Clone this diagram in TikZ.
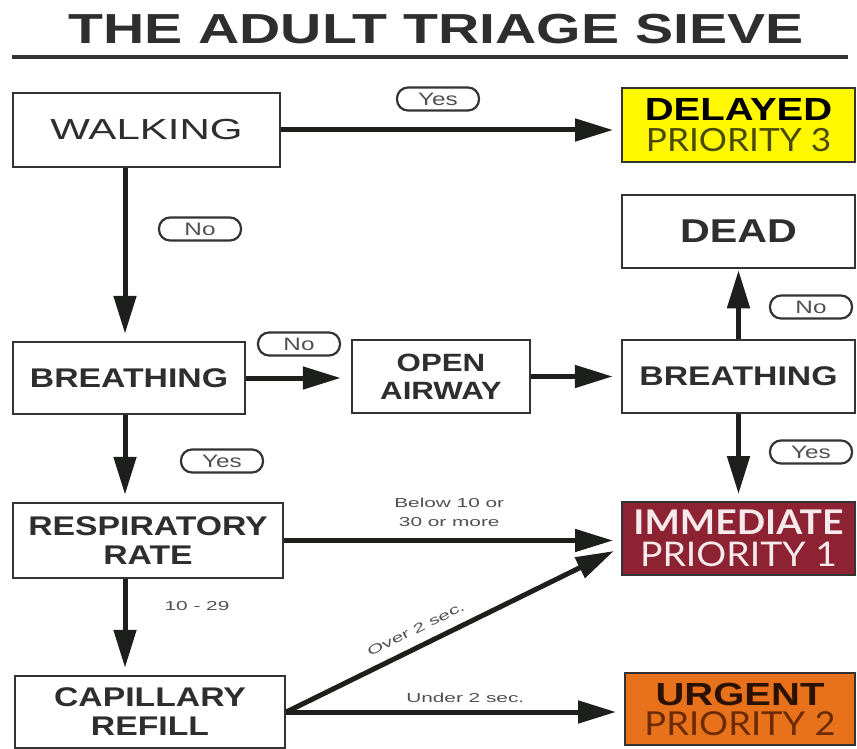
\documentclass[tikz,border=0pt]{standalone}
\usepackage{fontspec}
\setmainfont{Liberation Sans}
\newfontfamily\boxfont[FakeStretch=1.25]{Liberation Sans}
\newfontfamily\walkfont[FakeStretch=1.45]{Liberation Sans}
\newfontfamily\titlefont[FakeStretch=1.36]{Liberation Sans}
\newfontfamily\smallfont[FakeStretch=1.6]{Liberation Sans}
\newfontfamily\pillfont[FakeStretch=1.35]{Liberation Sans}
\newfontfamily\prifont[FakeStretch=1.1]{Lato}
\usetikzlibrary{arrows.meta,calc}
\definecolor{boxgray}{HTML}{333333}
\definecolor{arrowcol}{HTML}{1C1F1C}
\definecolor{txtgray}{HTML}{2E2E2E}
\definecolor{delayfill}{HTML}{FFF800}
\definecolor{immfill}{HTML}{8C2232}
\definecolor{urgfill}{HTML}{E8721C}
\definecolor{olive}{HTML}{4A4A00}
\definecolor{urgtxt}{HTML}{2B1200}
\definecolor{urgpri}{HTML}{6B2A00}
\definecolor{immtxt}{HTML}{F7EAEC}
\definecolor{smallgray}{HTML}{505050}
\begin{document}
\begin{tikzpicture}[x=1pt,y=-1pt,
  box/.style={draw=boxgray, line width=2.5pt, fill=white, inner sep=0pt, align=center, text=txtgray,
    font=\boxfont\bfseries\fontsize{27}{29}\selectfont},
  pribox/.style={draw=boxgray, line width=2pt, inner sep=0pt, align=center},
  pill/.style={draw=boxgray, line width=2.2pt, rounded corners=11pt, fill=white,
    minimum width=82pt, minimum height=23pt, inner sep=0pt, text=smallgray,
    font=\pillfont\fontsize{18}{18}\selectfont},
  arr/.style={draw=arrowcol, line width=5pt, -{Triangle[length=38pt,width=22pt]}},
  small/.style={text=smallgray, font=\smallfont\fontsize{13}{19}\selectfont, align=center, inner sep=2pt}
]
\useasboundingbox (0,0) rectangle (857,749);

% title
\node[anchor=base, text=txtgray, inner sep=0pt, font=\titlefont\bfseries\fontsize{42}{44}\selectfont]
  (title) at (436,44) {THE ADULT TRIAGE SIEVE};
\coordinate (ulL) at (12,57);
\coordinate (ulR) at (848,57);
\draw[boxgray, line width=4pt] (ulL) -- (ulR);

% boxes
\node[box, minimum width=267pt, minimum height=74pt, font=\walkfont\fontsize{29}{30}\selectfont] (walking) at (146.5,130) {WALKING};
\node[pribox, fill=delayfill, minimum width=233pt, minimum height=74pt, font=\fontsize{32}{32}\selectfont] (delayed) at (738.5,125)
  {\textcolor{black}{\boxfont\bfseries DELAYED}\\[-1pt]\textcolor{olive}{\prifont PRIORITY 3}};
\node[box, minimum width=233pt, minimum height=73pt, font=\boxfont\bfseries\fontsize{33}{33}\selectfont] (dead) at (738.5,231.5) {DEAD};
\node[box, minimum width=232pt, minimum height=72pt] (breathL) at (129,378) {BREATHING};
\node[box, minimum width=178pt, minimum height=73pt, font=\boxfont\bfseries\fontsize{25}{28}\selectfont] (openair) at (441,376.5) {OPEN\\AIRWAY};
\node[box, minimum width=233pt, minimum height=73pt] (breathR) at (738.5,376.5) {BREATHING};
\node[box, minimum width=270pt, minimum height=75pt] (resp) at (148,540.5) {RESPIRATORY\\RATE};
\node[pribox, fill=immfill, text=immtxt, minimum width=233pt, minimum height=73pt, font=\prifont\fontsize{34}{32}\selectfont] (immed) at (738.5,538.5)
  {{\bfseries IMMEDIATE}\\PRIORITY 1};
\node[box, minimum width=270pt, minimum height=72pt] (cap) at (150,712) {CAPILLARY\\REFILL};
\node[pribox, fill=urgfill, minimum width=230pt, minimum height=72pt, font=\fontsize{32}{30}\selectfont] (urgent) at (740,709)
  {\textcolor{urgtxt}{\boxfont\bfseries URGENT}\\\textcolor{urgpri}{\prifont\fontsize{33}{30}\selectfont PRIORITY 2}};

\coordinate (colx) at (125,0);

% arrows
\draw[arr, shorten >=8pt] (walking.east) -- (walking.east -| delayed.west);
\draw[arr, shorten >=7pt] (walking.south -| colx) -- (breathL.north -| colx);
\draw[arr, shorten >=10pt] (breathL.east) -- (breathL.east -| openair.west);
\draw[arr, shorten >=8pt] (openair.east) -- (openair.east -| breathR.west);
\draw[arr, shorten >=1pt] (breathR.north) -- (dead.south);
\draw[arr, shorten >=7pt] (breathR.south) -- (immed.north);
\draw[arr, shorten >=7pt] (breathL.south -| colx) -- (resp.north -| colx);
\draw[arr, shorten >=7pt] (resp.south -| colx) -- (cap.north -| colx);
\draw[arr, shorten >=8pt] (resp.east) -- (resp.east -| immed.west)
  node[small, pos=0.49, above=9pt] (below) {Below 10 or\\30 or more};
\draw[arr, shorten >=8pt] (cap.east) -- (cap.east -| urgent.west)
  node[small, pos=0.53, above=5pt] (under) {Under 2 sec.};
\draw[arr, shorten >=8pt] (cap.east) -- ([yshift=-9pt]immed.west)
  node[small, pos=0.41, sloped, above=8pt] (over) {Over 2 sec.};

% small label
\node[small] (r1029) at (197,606) {10 - 29};

% pills
\node[pill] (yes1) at (438,99) {Yes};
\node[pill] (no1) at (200,229) {No};
\node[pill] (no2) at (299,344) {No};
\node[pill] (no3) at (811,307) {No};
\node[pill] (yes3) at (811,452) {Yes};
\node[pill] (yes2) at (222,461) {Yes};
\end{tikzpicture}
\end{document}
